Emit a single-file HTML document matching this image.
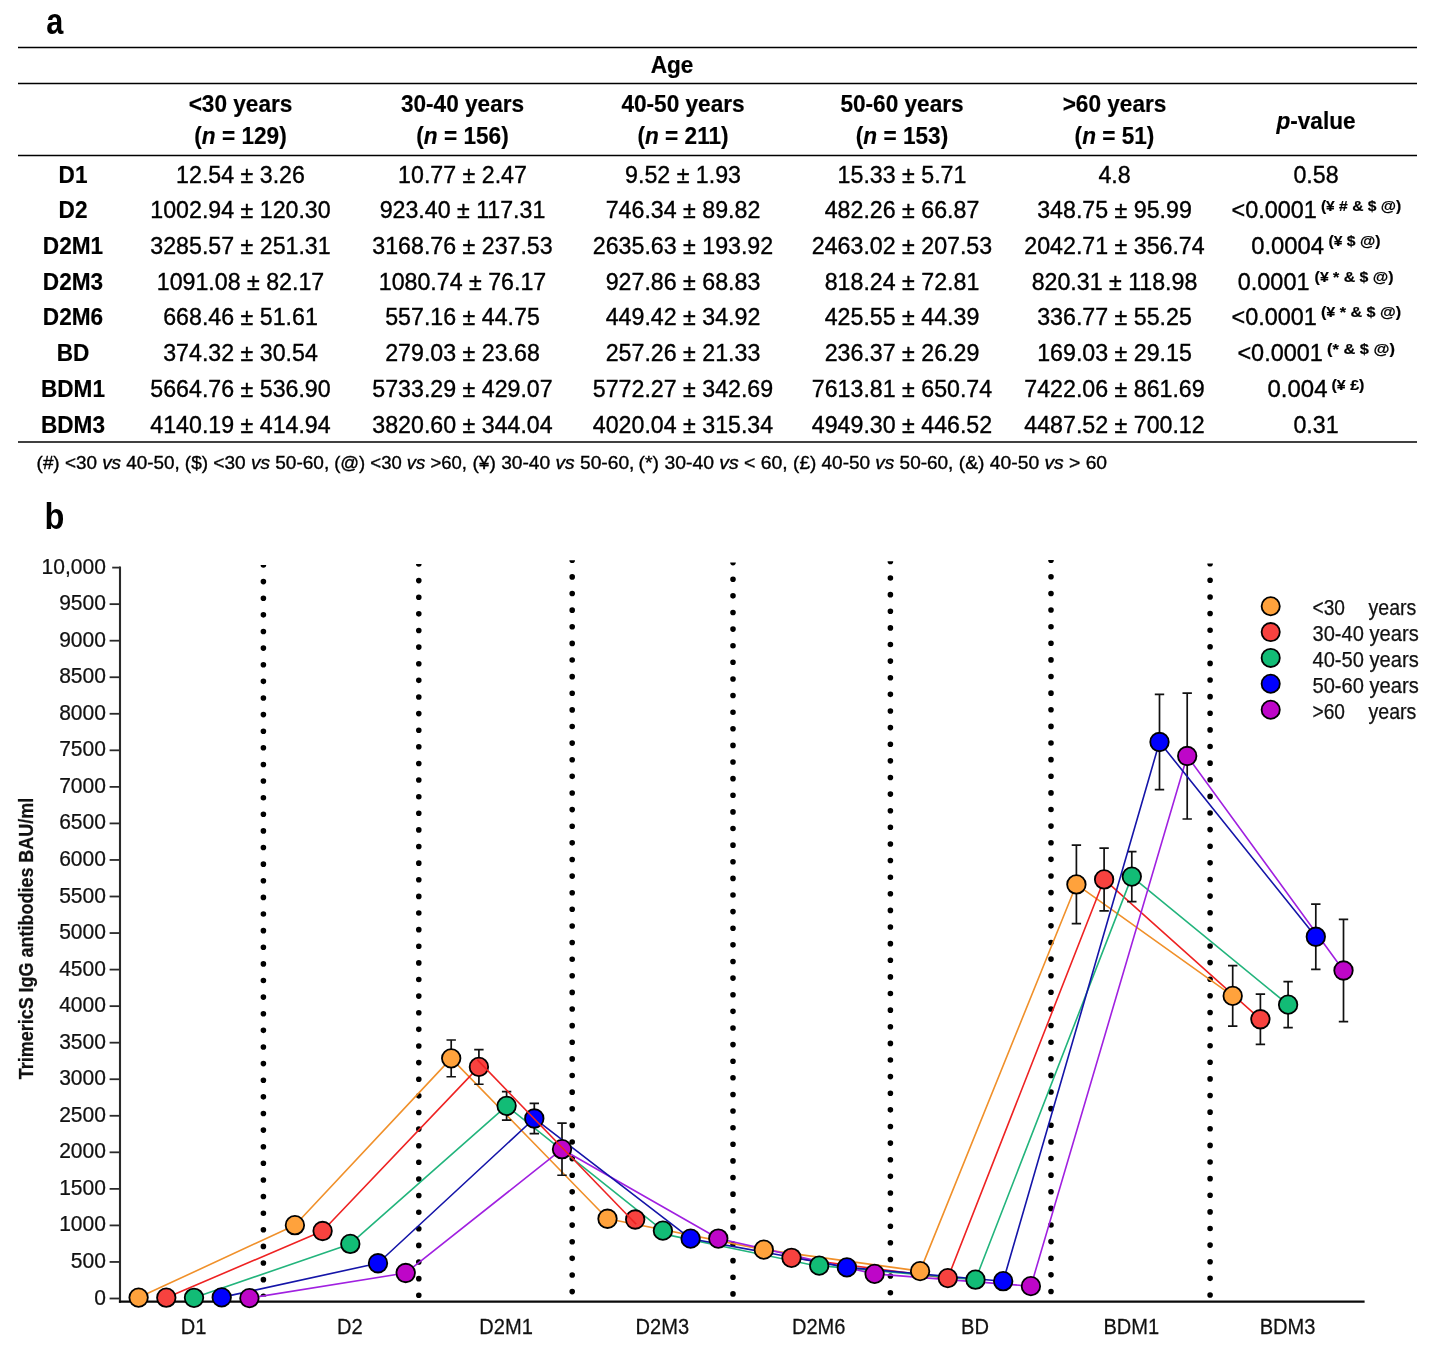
<!DOCTYPE html>
<html><head><meta charset="utf-8"><title>Figure</title>
<style>
html,body{margin:0;padding:0;background:#fff;}
body{width:1443px;height:1350px;overflow:hidden;}
svg{display:block;will-change:transform;font-family:"Liberation Sans",sans-serif;fill:#000;}
.b{font-weight:bold;}
.i{font-style:italic;}
.bi{font-weight:bold;font-style:italic;}
.tbl text{fill:#000;stroke:#000;stroke-width:0.35px;}
.tbl text.b{stroke-width:0.18px;}
.chart text{fill:#111;stroke:#111;stroke-width:0.25px;}
.dot{stroke:#000;stroke-width:5.6;stroke-linecap:round;stroke-dasharray:0 16.62;}
.eb{fill:none;stroke:#111;stroke-width:1.7;}
</style></head>
<body>
<svg width="1443" height="1350" viewBox="0 0 1443 1350">
<rect width="1443" height="1350" fill="#fff"/>
<g class="tbl">
<line x1="18" x2="1417" y1="47.5" y2="47.5" stroke="#000" stroke-width="1.3"/>
<line x1="18" x2="1417" y1="83.5" y2="83.5" stroke="#000" stroke-width="1.3"/>
<line x1="18" x2="1417" y1="155.5" y2="155.5" stroke="#000" stroke-width="1.3"/>
<line x1="18" x2="1417" y1="442.0" y2="442.0" stroke="#000" stroke-width="1.3"/>
<text class="b" transform="translate(672 73.0) scale(0.95 1)" font-size="23.8" text-anchor="middle">Age</text>
<text class="b" transform="translate(240.5 111.8) scale(0.95 1)" font-size="23.8" text-anchor="middle">&lt;30 years</text>
<text class="b" transform="translate(240.5 144.2) scale(0.95 1)" font-size="23.8" text-anchor="middle">(<tspan class="bi">n</tspan> = 129)</text>
<text class="b" transform="translate(462.5 111.8) scale(0.95 1)" font-size="23.8" text-anchor="middle">30-40 years</text>
<text class="b" transform="translate(462.5 144.2) scale(0.95 1)" font-size="23.8" text-anchor="middle">(<tspan class="bi">n</tspan> = 156)</text>
<text class="b" transform="translate(683 111.8) scale(0.95 1)" font-size="23.8" text-anchor="middle">40-50 years</text>
<text class="b" transform="translate(683 144.2) scale(0.95 1)" font-size="23.8" text-anchor="middle">(<tspan class="bi">n</tspan> = 211)</text>
<text class="b" transform="translate(902 111.8) scale(0.95 1)" font-size="23.8" text-anchor="middle">50-60 years</text>
<text class="b" transform="translate(902 144.2) scale(0.95 1)" font-size="23.8" text-anchor="middle">(<tspan class="bi">n</tspan> = 153)</text>
<text class="b" transform="translate(1114.5 111.8) scale(0.95 1)" font-size="23.8" text-anchor="middle">&gt;60 years</text>
<text class="b" transform="translate(1114.5 144.2) scale(0.95 1)" font-size="23.8" text-anchor="middle">(<tspan class="bi">n</tspan> = 51)</text>
<text class="b" transform="translate(1316 128.6) scale(0.95 1)" font-size="23.8" text-anchor="middle"><tspan class="bi">p</tspan>-value</text>
<text class="b" transform="translate(73 182.8) scale(0.95 1)" font-size="23.8" text-anchor="middle">D1</text>
<text x="240.5" y="182.8" font-size="23.2" text-anchor="middle">12.54 ± 3.26</text>
<text x="462.5" y="182.8" font-size="23.2" text-anchor="middle">10.77 ± 2.47</text>
<text x="683" y="182.8" font-size="23.2" text-anchor="middle">9.52 ± 1.93</text>
<text x="902" y="182.8" font-size="23.2" text-anchor="middle">15.33 ± 5.71</text>
<text x="1114.5" y="182.8" font-size="23.2" text-anchor="middle">4.8</text>
<text x="1316" y="182.8" font-size="23.2" text-anchor="middle">0.58</text>
<text class="b" transform="translate(73 218.2) scale(0.95 1)" font-size="23.8" text-anchor="middle">D2</text>
<text x="240.5" y="218.2" font-size="23.2" text-anchor="middle">1002.94 ± 120.30</text>
<text x="462.5" y="218.2" font-size="23.2" text-anchor="middle">923.40 ± 117.31</text>
<text x="683" y="218.2" font-size="23.2" text-anchor="middle">746.34 ± 89.82</text>
<text x="902" y="218.2" font-size="23.2" text-anchor="middle">482.26 ± 66.87</text>
<text x="1114.5" y="218.2" font-size="23.2" text-anchor="middle">348.75 ± 95.99</text>
<text x="1231.5" y="218.2" font-size="23.2" textLength="85.4" lengthAdjust="spacingAndGlyphs">&lt;0.0001</text>
<text class="b" x="1320.9" y="210.6" font-size="14" textLength="80.3" lengthAdjust="spacingAndGlyphs">(¥ # &amp; $ @)</text>
<text class="b" transform="translate(73 254.0) scale(0.95 1)" font-size="23.8" text-anchor="middle">D2M1</text>
<text x="240.5" y="254.0" font-size="23.2" text-anchor="middle">3285.57 ± 251.31</text>
<text x="462.5" y="254.0" font-size="23.2" text-anchor="middle">3168.76 ± 237.53</text>
<text x="683" y="254.0" font-size="23.2" text-anchor="middle">2635.63 ± 193.92</text>
<text x="902" y="254.0" font-size="23.2" text-anchor="middle">2463.02 ± 207.53</text>
<text x="1114.5" y="254.0" font-size="23.2" text-anchor="middle">2042.71 ± 356.74</text>
<text x="1251.2" y="254.0" font-size="23.2" textLength="72.9" lengthAdjust="spacingAndGlyphs">0.0004</text>
<text class="b" x="1328.5" y="246.4" font-size="14" textLength="51.9" lengthAdjust="spacingAndGlyphs">(¥ $ @)</text>
<text class="b" transform="translate(73 289.5) scale(0.95 1)" font-size="23.8" text-anchor="middle">D2M3</text>
<text x="240.5" y="289.5" font-size="23.2" text-anchor="middle">1091.08 ± 82.17</text>
<text x="462.5" y="289.5" font-size="23.2" text-anchor="middle">1080.74 ± 76.17</text>
<text x="683" y="289.5" font-size="23.2" text-anchor="middle">927.86 ± 68.83</text>
<text x="902" y="289.5" font-size="23.2" text-anchor="middle">818.24 ± 72.81</text>
<text x="1114.5" y="289.5" font-size="23.2" text-anchor="middle">820.31 ± 118.98</text>
<text x="1237.7" y="289.5" font-size="23.2" textLength="71.8" lengthAdjust="spacingAndGlyphs">0.0001</text>
<text class="b" x="1314.6" y="281.9" font-size="14" textLength="79.0" lengthAdjust="spacingAndGlyphs">(¥ * &amp; $ @)</text>
<text class="b" transform="translate(73 325.0) scale(0.95 1)" font-size="23.8" text-anchor="middle">D2M6</text>
<text x="240.5" y="325.0" font-size="23.2" text-anchor="middle">668.46 ± 51.61</text>
<text x="462.5" y="325.0" font-size="23.2" text-anchor="middle">557.16 ± 44.75</text>
<text x="683" y="325.0" font-size="23.2" text-anchor="middle">449.42 ± 34.92</text>
<text x="902" y="325.0" font-size="23.2" text-anchor="middle">425.55 ± 44.39</text>
<text x="1114.5" y="325.0" font-size="23.2" text-anchor="middle">336.77 ± 55.25</text>
<text x="1231.5" y="325.0" font-size="23.2" textLength="85.4" lengthAdjust="spacingAndGlyphs">&lt;0.0001</text>
<text class="b" x="1320.9" y="317.4" font-size="14" textLength="80.3" lengthAdjust="spacingAndGlyphs">(¥ * &amp; $ @)</text>
<text class="b" transform="translate(73 361.2) scale(0.95 1)" font-size="23.8" text-anchor="middle">BD</text>
<text x="240.5" y="361.2" font-size="23.2" text-anchor="middle">374.32 ± 30.54</text>
<text x="462.5" y="361.2" font-size="23.2" text-anchor="middle">279.03 ± 23.68</text>
<text x="683" y="361.2" font-size="23.2" text-anchor="middle">257.26 ± 21.33</text>
<text x="902" y="361.2" font-size="23.2" text-anchor="middle">236.37 ± 26.29</text>
<text x="1114.5" y="361.2" font-size="23.2" text-anchor="middle">169.03 ± 29.15</text>
<text x="1237.4" y="361.2" font-size="23.2" textLength="85.5" lengthAdjust="spacingAndGlyphs">&lt;0.0001</text>
<text class="b" x="1327.1" y="353.6" font-size="14" textLength="67.8" lengthAdjust="spacingAndGlyphs">(* &amp; $ @)</text>
<text class="b" transform="translate(73 397.4) scale(0.95 1)" font-size="23.8" text-anchor="middle">BDM1</text>
<text x="240.5" y="397.4" font-size="23.2" text-anchor="middle">5664.76 ± 536.90</text>
<text x="462.5" y="397.4" font-size="23.2" text-anchor="middle">5733.29 ± 429.07</text>
<text x="683" y="397.4" font-size="23.2" text-anchor="middle">5772.27 ± 342.69</text>
<text x="902" y="397.4" font-size="23.2" text-anchor="middle">7613.81 ± 650.74</text>
<text x="1114.5" y="397.4" font-size="23.2" text-anchor="middle">7422.06 ± 861.69</text>
<text x="1267.5" y="397.4" font-size="23.2" textLength="60.0" lengthAdjust="spacingAndGlyphs">0.004</text>
<text class="b" x="1331.5" y="389.8" font-size="14" textLength="32.9" lengthAdjust="spacingAndGlyphs">(¥ £)</text>
<text class="b" transform="translate(73 433.0) scale(0.95 1)" font-size="23.8" text-anchor="middle">BDM3</text>
<text x="240.5" y="433.0" font-size="23.2" text-anchor="middle">4140.19 ± 414.94</text>
<text x="462.5" y="433.0" font-size="23.2" text-anchor="middle">3820.60 ± 344.04</text>
<text x="683" y="433.0" font-size="23.2" text-anchor="middle">4020.04 ± 315.34</text>
<text x="902" y="433.0" font-size="23.2" text-anchor="middle">4949.30 ± 446.52</text>
<text x="1114.5" y="433.0" font-size="23.2" text-anchor="middle">4487.52 ± 700.12</text>
<text x="1316" y="433.0" font-size="23.2" text-anchor="middle">0.31</text>
<text x="36.6" y="469" font-size="17.6" textLength="143.2" lengthAdjust="spacingAndGlyphs">(#) &lt;30 <tspan class="i">vs</tspan> 40-50,</text>
<text x="184.8" y="469" font-size="17.6" textLength="144.4" lengthAdjust="spacingAndGlyphs">($) &lt;30 <tspan class="i">vs</tspan> 50-60,</text>
<text x="334.2" y="469" font-size="17.6" textLength="132.7" lengthAdjust="spacingAndGlyphs">(@) &lt;30 <tspan class="i">vs</tspan> &gt;60,</text>
<text x="472.4" y="469" font-size="17.6" textLength="162.0" lengthAdjust="spacingAndGlyphs">(¥) 30-40 <tspan class="i">vs</tspan> 50-60,</text>
<text x="638.6" y="469" font-size="17.6" textLength="149.1" lengthAdjust="spacingAndGlyphs">(*) 30-40 <tspan class="i">vs</tspan> &lt; 60,</text>
<text x="793.1" y="469" font-size="17.6" textLength="160.3" lengthAdjust="spacingAndGlyphs">(£) 40-50 <tspan class="i">vs</tspan> 50-60,</text>
<text x="958.8" y="469" font-size="17.6" textLength="148.3" lengthAdjust="spacingAndGlyphs">(&amp;) 40-50 <tspan class="i">vs</tspan> &gt; 60</text>
</g>
<text class="b" transform="translate(46.2 34.4) scale(0.83 1)" font-size="37">a</text>
<text class="b" transform="translate(44.6 528.6) scale(0.87 1)" font-size="37.4">b</text>
<g class="chart">
<clipPath id="dc0"><rect x="258.4" y="564.90" width="10" height="731.58"/></clipPath>
<line class="dot" clip-path="url(#dc0)" x1="263.4" x2="263.4" y1="565.00" y2="1296.33"/>
<clipPath id="dc1"><rect x="413.8" y="563.90" width="10" height="735.38"/></clipPath>
<line class="dot" clip-path="url(#dc1)" x1="418.8" x2="418.8" y1="564.00" y2="1295.33"/>
<clipPath id="dc2"><rect x="567.2" y="560.20" width="10" height="735.38"/></clipPath>
<line class="dot" clip-path="url(#dc2)" x1="572.2" x2="572.2" y1="560.30" y2="1291.63"/>
<clipPath id="dc3"><rect x="728.0" y="562.50" width="10" height="735.38"/></clipPath>
<line class="dot" clip-path="url(#dc3)" x1="733.0" x2="733.0" y1="562.60" y2="1293.93"/>
<clipPath id="dc4"><rect x="885.4" y="561.30" width="10" height="735.38"/></clipPath>
<line class="dot" clip-path="url(#dc4)" x1="890.4" x2="890.4" y1="561.40" y2="1292.73"/>
<clipPath id="dc5"><rect x="1046.0" y="560.10" width="10" height="735.38"/></clipPath>
<line class="dot" clip-path="url(#dc5)" x1="1051.0" x2="1051.0" y1="560.20" y2="1291.53"/>
<clipPath id="dc6"><rect x="1205.1" y="563.60" width="10" height="735.38"/></clipPath>
<line class="dot" clip-path="url(#dc6)" x1="1210.1" x2="1210.1" y1="563.70" y2="1295.03"/>
<line x1="120.0" x2="120.0" y1="566.6" y2="1302.8" stroke="#2a2a2a" stroke-width="2.1"/>
<line x1="118.9" x2="1364.6" y1="1301.7" y2="1301.7" stroke="#0a0a0a" stroke-width="2.2"/>
<line x1="109.6" x2="120.0" y1="1298.50" y2="1298.50" stroke="#2a2a2a" stroke-width="1.8"/>
<text transform="translate(105.9 1304.50) scale(0.947 1)" font-size="22.2" text-anchor="end">0</text>
<line x1="109.6" x2="120.0" y1="1261.95" y2="1261.95" stroke="#2a2a2a" stroke-width="1.8"/>
<text transform="translate(105.9 1267.95) scale(0.947 1)" font-size="22.2" text-anchor="end">500</text>
<line x1="109.6" x2="120.0" y1="1225.41" y2="1225.41" stroke="#2a2a2a" stroke-width="1.8"/>
<text transform="translate(105.9 1231.41) scale(0.947 1)" font-size="22.2" text-anchor="end">1000</text>
<line x1="109.6" x2="120.0" y1="1188.87" y2="1188.87" stroke="#2a2a2a" stroke-width="1.8"/>
<text transform="translate(105.9 1194.87) scale(0.947 1)" font-size="22.2" text-anchor="end">1500</text>
<line x1="109.6" x2="120.0" y1="1152.32" y2="1152.32" stroke="#2a2a2a" stroke-width="1.8"/>
<text transform="translate(105.9 1158.32) scale(0.947 1)" font-size="22.2" text-anchor="end">2000</text>
<line x1="109.6" x2="120.0" y1="1115.78" y2="1115.78" stroke="#2a2a2a" stroke-width="1.8"/>
<text transform="translate(105.9 1121.78) scale(0.947 1)" font-size="22.2" text-anchor="end">2500</text>
<line x1="109.6" x2="120.0" y1="1079.23" y2="1079.23" stroke="#2a2a2a" stroke-width="1.8"/>
<text transform="translate(105.9 1085.23) scale(0.947 1)" font-size="22.2" text-anchor="end">3000</text>
<line x1="109.6" x2="120.0" y1="1042.68" y2="1042.68" stroke="#2a2a2a" stroke-width="1.8"/>
<text transform="translate(105.9 1048.68) scale(0.947 1)" font-size="22.2" text-anchor="end">3500</text>
<line x1="109.6" x2="120.0" y1="1006.14" y2="1006.14" stroke="#2a2a2a" stroke-width="1.8"/>
<text transform="translate(105.9 1012.14) scale(0.947 1)" font-size="22.2" text-anchor="end">4000</text>
<line x1="109.6" x2="120.0" y1="969.60" y2="969.60" stroke="#2a2a2a" stroke-width="1.8"/>
<text transform="translate(105.9 975.60) scale(0.947 1)" font-size="22.2" text-anchor="end">4500</text>
<line x1="109.6" x2="120.0" y1="933.05" y2="933.05" stroke="#2a2a2a" stroke-width="1.8"/>
<text transform="translate(105.9 939.05) scale(0.947 1)" font-size="22.2" text-anchor="end">5000</text>
<line x1="109.6" x2="120.0" y1="896.50" y2="896.50" stroke="#2a2a2a" stroke-width="1.8"/>
<text transform="translate(105.9 902.50) scale(0.947 1)" font-size="22.2" text-anchor="end">5500</text>
<line x1="109.6" x2="120.0" y1="859.96" y2="859.96" stroke="#2a2a2a" stroke-width="1.8"/>
<text transform="translate(105.9 865.96) scale(0.947 1)" font-size="22.2" text-anchor="end">6000</text>
<line x1="109.6" x2="120.0" y1="823.41" y2="823.41" stroke="#2a2a2a" stroke-width="1.8"/>
<text transform="translate(105.9 829.41) scale(0.947 1)" font-size="22.2" text-anchor="end">6500</text>
<line x1="109.6" x2="120.0" y1="786.87" y2="786.87" stroke="#2a2a2a" stroke-width="1.8"/>
<text transform="translate(105.9 792.87) scale(0.947 1)" font-size="22.2" text-anchor="end">7000</text>
<line x1="109.6" x2="120.0" y1="750.32" y2="750.32" stroke="#2a2a2a" stroke-width="1.8"/>
<text transform="translate(105.9 756.32) scale(0.947 1)" font-size="22.2" text-anchor="end">7500</text>
<line x1="109.6" x2="120.0" y1="713.78" y2="713.78" stroke="#2a2a2a" stroke-width="1.8"/>
<text transform="translate(105.9 719.78) scale(0.947 1)" font-size="22.2" text-anchor="end">8000</text>
<line x1="109.6" x2="120.0" y1="677.24" y2="677.24" stroke="#2a2a2a" stroke-width="1.8"/>
<text transform="translate(105.9 683.24) scale(0.947 1)" font-size="22.2" text-anchor="end">8500</text>
<line x1="109.6" x2="120.0" y1="640.69" y2="640.69" stroke="#2a2a2a" stroke-width="1.8"/>
<text transform="translate(105.9 646.69) scale(0.947 1)" font-size="22.2" text-anchor="end">9000</text>
<line x1="109.6" x2="120.0" y1="604.14" y2="604.14" stroke="#2a2a2a" stroke-width="1.8"/>
<text transform="translate(105.9 610.14) scale(0.947 1)" font-size="22.2" text-anchor="end">9500</text>
<line x1="112.2" x2="120.0" y1="567.60" y2="567.60" stroke="#2a2a2a" stroke-width="1.8"/>
<text transform="translate(105.9 573.60) scale(0.947 1)" font-size="22.2" text-anchor="end">10,000</text>
<text transform="translate(193.5 1334.3) scale(0.905 1)" font-size="22.2" text-anchor="middle">D1</text>
<text transform="translate(349.8 1334.3) scale(0.905 1)" font-size="22.2" text-anchor="middle">D2</text>
<text transform="translate(506.1 1334.3) scale(0.905 1)" font-size="22.2" text-anchor="middle">D2M1</text>
<text transform="translate(662.4 1334.3) scale(0.905 1)" font-size="22.2" text-anchor="middle">D2M3</text>
<text transform="translate(818.7 1334.3) scale(0.905 1)" font-size="22.2" text-anchor="middle">D2M6</text>
<text transform="translate(975.0 1334.3) scale(0.905 1)" font-size="22.2" text-anchor="middle">BD</text>
<text transform="translate(1131.3 1334.3) scale(0.905 1)" font-size="22.2" text-anchor="middle">BDM1</text>
<text transform="translate(1287.6 1334.3) scale(0.905 1)" font-size="22.2" text-anchor="middle">BDM3</text>
<text class="b" transform="translate(33.2,938.5) rotate(-90)" font-size="19.6" text-anchor="middle" textLength="281.5" lengthAdjust="spacingAndGlyphs">TrimericS IgG antibodies BAU/ml</text>
<path class="eb" d="M451.20,1039.99V1076.73M446.50,1039.99h9.4M446.50,1076.73h9.4"/>
<path class="eb" d="M1076.40,845.22V923.70M1071.70,845.22h9.4M1071.70,923.70h9.4"/>
<path class="eb" d="M1232.70,965.57V1026.22M1228.00,965.57h9.4M1228.00,1026.22h9.4"/>
<path d="M138.60,1297.58 L294.90,1225.20 L451.20,1058.36 L607.50,1218.75 L763.80,1249.64 L920.10,1271.14 L1076.40,884.46 L1232.70,995.89" fill="none" stroke="#F0902A" stroke-width="1.6" stroke-linejoin="round"/>
<path class="eb" d="M478.90,1049.53V1084.26M474.20,1049.53h9.4M474.20,1084.26h9.4"/>
<path class="eb" d="M1104.10,848.09V910.81M1099.40,848.09h9.4M1099.40,910.81h9.4"/>
<path class="eb" d="M1260.40,994.11V1044.40M1255.70,994.11h9.4M1255.70,1044.40h9.4"/>
<path d="M166.30,1297.71 L322.60,1231.01 L478.90,1066.90 M791.50,1257.78 L947.80,1278.11 L1104.10,879.45 L1260.40,1019.25" fill="none" stroke="#EE2222" stroke-width="1.6" stroke-linejoin="round"/>
<path class="eb" d="M506.60,1091.69V1120.04M501.90,1091.69h9.4M501.90,1120.04h9.4"/>
<path class="eb" d="M1131.80,851.56V901.65M1127.10,851.56h9.4M1127.10,901.65h9.4"/>
<path class="eb" d="M1288.10,981.63V1027.72M1283.40,981.63h9.4M1283.40,1027.72h9.4"/>
<path d="M194.00,1297.80 L350.30,1243.95 L506.60,1105.86 L662.90,1230.68 M662.90,1233.88 L819.20,1266.45 819.20,1265.65 L975.50,1279.70 L1131.80,876.60 L1288.10,1004.68" fill="none" stroke="#22B47C" stroke-width="1.6" stroke-linejoin="round"/>
<path class="eb" d="M562.00,1123.12V1175.27M557.30,1123.12h9.4M557.30,1175.27h9.4"/>
<path class="eb" d="M1187.20,693.04V819.00M1182.50,693.04h9.4M1182.50,819.00h9.4"/>
<path class="eb" d="M1343.50,919.34V1021.68M1338.80,919.34h9.4M1338.80,1021.68h9.4"/>
<path d="M249.40,1298.15 L405.70,1273.01 L562.00,1149.20 L718.30,1238.54 L874.60,1273.89 L1030.90,1286.15 L1187.20,756.02 L1343.50,970.51" fill="none" stroke="#A020E0" stroke-width="1.6" stroke-linejoin="round"/>
<path class="eb" d="M534.30,1103.31V1133.65M529.60,1103.31h9.4M529.60,1133.65h9.4"/>
<path class="eb" d="M1159.50,694.44V789.57M1154.80,694.44h9.4M1154.80,789.57h9.4"/>
<path class="eb" d="M1315.80,904.12V969.39M1311.10,904.12h9.4M1311.10,969.39h9.4"/>
<path d="M221.70,1297.38 L378.00,1263.25 L534.30,1118.48 L690.60,1238.69 L846.90,1267.40 L1003.20,1281.22 L1159.50,742.01 L1315.80,936.76" fill="none" stroke="#1414A8" stroke-width="1.6" stroke-linejoin="round"/>
<circle cx="138.60" cy="1297.58" r="9.25" fill="#FFA23C" stroke="#000" stroke-width="1.8"/>
<circle cx="294.90" cy="1225.20" r="9.25" fill="#FFA23C" stroke="#000" stroke-width="1.8"/>
<circle cx="451.20" cy="1058.36" r="9.25" fill="#FFA23C" stroke="#000" stroke-width="1.8"/>
<circle cx="607.50" cy="1218.75" r="9.25" fill="#FFA23C" stroke="#000" stroke-width="1.8"/>
<circle cx="763.80" cy="1249.64" r="9.25" fill="#FFA23C" stroke="#000" stroke-width="1.8"/>
<circle cx="920.10" cy="1271.14" r="9.25" fill="#FFA23C" stroke="#000" stroke-width="1.8"/>
<circle cx="1076.40" cy="884.46" r="9.25" fill="#FFA23C" stroke="#000" stroke-width="1.8"/>
<circle cx="1232.70" cy="995.89" r="9.25" fill="#FFA23C" stroke="#000" stroke-width="1.8"/>
<circle cx="166.30" cy="1297.71" r="9.25" fill="#F7423F" stroke="#000" stroke-width="1.8"/>
<circle cx="322.60" cy="1231.01" r="9.25" fill="#F7423F" stroke="#000" stroke-width="1.8"/>
<circle cx="478.90" cy="1066.90" r="9.25" fill="#F7423F" stroke="#000" stroke-width="1.8"/>
<circle cx="635.20" cy="1219.51" r="9.25" fill="#F7423F" stroke="#000" stroke-width="1.8"/>
<circle cx="791.50" cy="1257.78" r="9.25" fill="#F7423F" stroke="#000" stroke-width="1.8"/>
<circle cx="947.80" cy="1278.11" r="9.25" fill="#F7423F" stroke="#000" stroke-width="1.8"/>
<circle cx="1104.10" cy="879.45" r="9.25" fill="#F7423F" stroke="#000" stroke-width="1.8"/>
<circle cx="1260.40" cy="1019.25" r="9.25" fill="#F7423F" stroke="#000" stroke-width="1.8"/>
<circle cx="194.00" cy="1297.80" r="9.25" fill="#12BC76" stroke="#000" stroke-width="1.8"/>
<circle cx="350.30" cy="1243.95" r="9.25" fill="#12BC76" stroke="#000" stroke-width="1.8"/>
<circle cx="506.60" cy="1105.86" r="9.25" fill="#12BC76" stroke="#000" stroke-width="1.8"/>
<circle cx="662.90" cy="1230.68" r="9.25" fill="#12BC76" stroke="#000" stroke-width="1.8"/>
<circle cx="819.20" cy="1265.65" r="9.25" fill="#12BC76" stroke="#000" stroke-width="1.8"/>
<circle cx="975.50" cy="1279.70" r="9.25" fill="#12BC76" stroke="#000" stroke-width="1.8"/>
<circle cx="1131.80" cy="876.60" r="9.25" fill="#12BC76" stroke="#000" stroke-width="1.8"/>
<circle cx="1288.10" cy="1004.68" r="9.25" fill="#12BC76" stroke="#000" stroke-width="1.8"/>
<circle cx="221.70" cy="1297.38" r="9.25" fill="#0000FE" stroke="#000" stroke-width="1.8"/>
<circle cx="378.00" cy="1263.25" r="9.25" fill="#0000FE" stroke="#000" stroke-width="1.8"/>
<circle cx="534.30" cy="1118.48" r="9.25" fill="#0000FE" stroke="#000" stroke-width="1.8"/>
<circle cx="690.60" cy="1238.69" r="9.25" fill="#0000FE" stroke="#000" stroke-width="1.8"/>
<circle cx="846.90" cy="1267.40" r="9.25" fill="#0000FE" stroke="#000" stroke-width="1.8"/>
<circle cx="1003.20" cy="1281.22" r="9.25" fill="#0000FE" stroke="#000" stroke-width="1.8"/>
<circle cx="1159.50" cy="742.01" r="9.25" fill="#0000FE" stroke="#000" stroke-width="1.8"/>
<circle cx="1315.80" cy="936.76" r="9.25" fill="#0000FE" stroke="#000" stroke-width="1.8"/>
<circle cx="249.40" cy="1298.15" r="9.25" fill="#BE06C8" stroke="#000" stroke-width="1.8"/>
<circle cx="405.70" cy="1273.01" r="9.25" fill="#BE06C8" stroke="#000" stroke-width="1.8"/>
<circle cx="562.00" cy="1149.20" r="9.25" fill="#BE06C8" stroke="#000" stroke-width="1.8"/>
<circle cx="718.30" cy="1238.54" r="9.25" fill="#BE06C8" stroke="#000" stroke-width="1.8"/>
<circle cx="874.60" cy="1273.89" r="9.25" fill="#BE06C8" stroke="#000" stroke-width="1.8"/>
<circle cx="1030.90" cy="1286.15" r="9.25" fill="#BE06C8" stroke="#000" stroke-width="1.8"/>
<circle cx="1187.20" cy="756.02" r="9.25" fill="#BE06C8" stroke="#000" stroke-width="1.8"/>
<circle cx="1343.50" cy="970.51" r="9.25" fill="#BE06C8" stroke="#000" stroke-width="1.8"/>
<line x1="477.4" y1="1059.9" x2="636.2" y2="1224.3" stroke="#EE2222" stroke-width="1.6"/>
<circle cx="1270.7" cy="606.3" r="9.1" fill="#FFA23C" stroke="#000" stroke-width="1.8"/>
<text x="1312.5" y="615.2" font-size="22.2" textLength="32.5" lengthAdjust="spacingAndGlyphs">&lt;30</text>
<text x="1368.6" y="615.2" font-size="22.2" textLength="47.8" lengthAdjust="spacingAndGlyphs">years</text>
<circle cx="1270.7" cy="632.1" r="9.1" fill="#F7423F" stroke="#000" stroke-width="1.8"/>
<text x="1312.5" y="641.0" font-size="22.2" textLength="106.2" lengthAdjust="spacingAndGlyphs">30-40 years</text>
<circle cx="1270.7" cy="657.9" r="9.1" fill="#12BC76" stroke="#000" stroke-width="1.8"/>
<text x="1312.5" y="666.8" font-size="22.2" textLength="106.2" lengthAdjust="spacingAndGlyphs">40-50 years</text>
<circle cx="1270.7" cy="683.8" r="9.1" fill="#0000FE" stroke="#000" stroke-width="1.8"/>
<text x="1312.5" y="692.7" font-size="22.2" textLength="106.2" lengthAdjust="spacingAndGlyphs">50-60 years</text>
<circle cx="1270.7" cy="709.7" r="9.1" fill="#BE06C8" stroke="#000" stroke-width="1.8"/>
<text x="1312.5" y="718.6" font-size="22.2" textLength="32.5" lengthAdjust="spacingAndGlyphs">&gt;60</text>
<text x="1368.6" y="718.6" font-size="22.2" textLength="47.8" lengthAdjust="spacingAndGlyphs">years</text>
</g>
</svg>
</body></html>
